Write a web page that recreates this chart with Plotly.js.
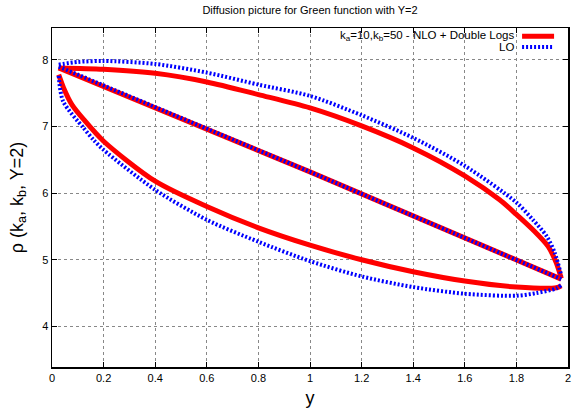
<!DOCTYPE html>
<html><head><meta charset="utf-8">
<script src="https://cdn.plot.ly/plotly-3.0.1.min.js"></script>
<style>body{margin:0;background:#fff}#chart{width:573px;height:410px}</style>
</head><body><div id="chart"></div>
<script>
// NLO + Double Logs (red)
const nloUpperY = [0.026, 0.2, 0.4, 0.6, 0.8, 1.0, 1.2, 1.4, 1.6, 1.735, 1.8, 1.864, 1.923, 1.955, 1.974];
const nloUpperR = [7.88, 7.86, 7.80, 7.67, 7.48, 7.28, 7.01, 6.68, 6.26, 5.90, 5.68, 5.45, 5.20, 4.95, 4.72];
const nloMeanY  = [0.026, 1.0, 1.974];
const nloMeanR  = [7.88, 6.32, 4.71];
const nloLowerY = [0.026, 0.045, 0.077, 0.122, 0.2, 0.4, 0.6, 0.8, 1.0, 1.2, 1.4, 1.6, 1.8, 1.955, 1.974];
const nloLowerR = [7.78, 7.58, 7.33, 7.11, 6.78, 6.18, 5.80, 5.48, 5.22, 5.00, 4.82, 4.68, 4.59, 4.58, 4.61];
// LO (blue)
const loUpperY = [0.026, 0.1, 0.2, 0.4, 0.6, 0.8, 1.0, 1.2, 1.4, 1.6, 1.8, 1.864, 1.918, 1.949, 1.974];
const loUpperR = [7.93, 7.97, 7.985, 7.94, 7.81, 7.63, 7.46, 7.17, 6.83, 6.41, 5.86, 5.60, 5.35, 5.10, 4.76];
const loMeanY  = [0.026, 1.0, 1.974];
const loMeanR  = [7.90, 6.32, 4.71];
const loLowerY = [0.026, 0.043, 0.122, 0.161, 0.2, 0.4, 0.6, 0.8, 1.0, 1.2, 1.4, 1.6, 1.8, 1.877, 1.955, 1.974];
const loLowerR = [7.76, 7.38, 6.98, 6.80, 6.65, 6.05, 5.60, 5.27, 4.98, 4.75, 4.59, 4.49, 4.46, 4.50, 4.57, 4.62];

const xTicks = [0, 0.2, 0.4, 0.6, 0.8, 1, 1.2, 1.4, 1.6, 1.8, 2];
const yTicks = [4, 5, 6, 7, 8];
const nloLabel = 'k<sub>a</sub>=10,k<sub>b</sub>=50 - NLO + Double Logs';
const loLabel = 'LO';

const red = '#ff0000', blue = '#0000ff';
function redLine(shape){ return {color: red, width: 5, shape: shape, smoothing: 0.8}; }
function blueLine(shape){ return {color: blue, width: 4, dash: '2px,2px', shape: shape, smoothing: 0.8}; }
function tr(x, y, line){ return {x: x, y: y, mode: 'lines', line: line, showlegend: false, hoverinfo: 'skip'}; }

const data = [
  tr(nloUpperY, nloUpperR, redLine('spline')),
  tr(nloMeanY, nloMeanR, redLine('linear')),
  tr(nloLowerY, nloLowerR, redLine('spline')),
  tr(loUpperY, loUpperR, blueLine('spline')),
  tr(loMeanY, loMeanR, blueLine('linear')),
  tr(loLowerY, loLowerR, blueLine('spline'))
];

const font = {family: '"Liberation Sans", Arial, sans-serif', color: '#000', size: 11};
const layout = {
  width: 573, height: 410,
  margin: {l: 52, r: 5, t: 28, b: 43},
  paper_bgcolor: '#fff', plot_bgcolor: '#fff',
  font: font,
  showlegend: false,
  title: {text: 'Diffusion picture for Green function with Y=2', font: {size: 11, family: font.family, color: '#000'}, x: 0.541, xanchor: 'center', y: 0.975, yanchor: 'middle'},
  xaxis: {
    range: [0, 2], tickvals: xTicks, ticktext: xTicks.map(String),
    ticks: 'inside', ticklen: 5, tickcolor: '#000', mirror: 'ticks',
    showline: true, linecolor: '#000', linewidth: 1.5,
    showgrid: true, gridcolor: '#888', griddash: 'dot', gridwidth: 1,
    zeroline: false, tickfont: {size: 11},
    title: {text: 'y', font: {size: 18}, standoff: 8}
  },
  yaxis: {
    range: [3.39, 8.48], tickvals: yTicks, ticktext: yTicks.map(String),
    ticks: 'inside', ticklen: 5, tickcolor: '#000', mirror: 'ticks',
    showline: true, linecolor: '#000', linewidth: 1.5,
    showgrid: true, gridcolor: '#888', griddash: 'dot', gridwidth: 1,
    zeroline: false, tickfont: {size: 11},
    title: {text: 'ρ (k<sub>a</sub>, k<sub>b</sub>, Y=2)', font: {size: 18}, standoff: 14}
  },
  annotations: [
    {xref: 'paper', yref: 'paper', x: 0.899, y: 0.976, xanchor: 'right', yanchor: 'middle', text: nloLabel, showarrow: false, font: {size: 11.5}},
    {xref: 'paper', yref: 'paper', x: 0.899, y: 0.944, xanchor: 'right', yanchor: 'middle', text: loLabel, showarrow: false, font: {size: 11.5}}
  ],
  shapes: [
    {type: 'line', xref: 'paper', yref: 'paper', x0: 0.911, x1: 0.973, y0: 0.976, y1: 0.976, line: {color: red, width: 5}},
    {type: 'line', xref: 'paper', yref: 'paper', x0: 0.911, x1: 0.973, y0: 0.944, y1: 0.944, line: {color: blue, width: 4, dash: '2px,2px'}}
  ]
};
Plotly.newPlot('chart', data, layout, {staticPlot: true, displayModeBar: false});
</script></body></html>
